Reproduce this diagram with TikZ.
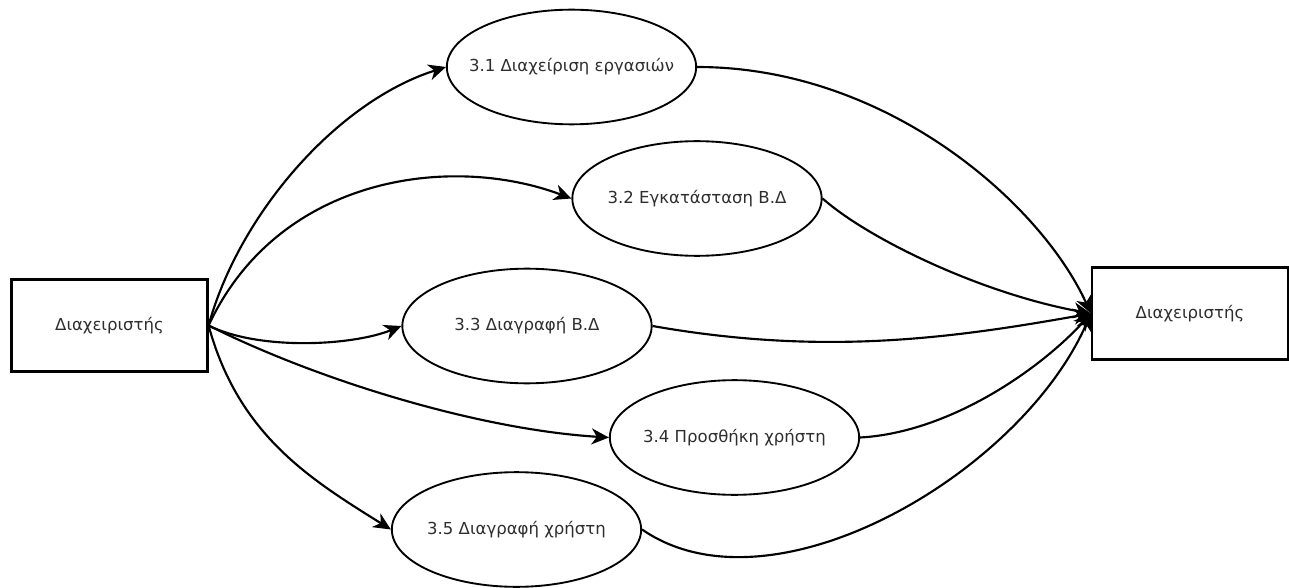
\documentclass[tikz,border=0pt]{standalone}
\usepackage{fontspec}
\setmainfont{DejaVu Sans}
\usetikzlibrary{shapes.geometric,arrows.meta}
\begin{document}
\begin{tikzpicture}[x=0.75pt,y=-0.75pt,
  every node/.style={font=\fontsize{12.4pt}{14pt}\selectfont,text=black!82},
  actor/.style={draw,line width=1.6pt,rectangle,minimum width=147pt,minimum height=69pt,inner sep=0pt},
  task/.style={draw,line width=1.4pt,ellipse,minimum width=187pt,minimum height=86pt,inner xsep=-50pt,inner ysep=-10pt},
  flow/.style={line width=1.6pt,-{Stealth[length=13pt,width=12pt,inset=4pt]}}]
\useasboundingbox (0,0) rectangle (1289,588);
% external entities
\node[actor] (L) at (109.5,325.5) {Διαχειριστής};
\node[actor] (R) at (1190,313.5) {Διαχειριστής};
% processes
\node[task] (E1) at (571.5,67) {3.1 Διαχείριση εργασιών};
\node[task] (E2) at (697,198.5) {3.2 Εγκατάσταση Β.Δ};
\node[task] (E3) at (527,326) {3.3 Διαγραφή Β.Δ};
\node[task] (E4) at (734.5,437.5) {3.4 Προσθήκη χρήστη};
\node[task] (E5) at (516.5,529.5) {3.5 Διαγραφή χρήστη};
% flows from the administrator
\coordinate (Lo) at (L.east);
\coordinate (Ri) at (R.west);
\draw[flow] (Lo) .. controls +(30,-110) and +(-110,35) .. (E1.west);
\draw[flow] (Lo) .. controls +(70,-150) and +(-120,-45) .. (E2.west);
\draw[flow] (Lo) .. controls +(50,25) and +(-50,20) .. (E3.west);
\draw[flow] (Lo) .. controls +(110,55) and +(-130,-8) .. (E4.west);
\draw[flow] (Lo) .. controls +(30,110) and +(-80,-50) .. (E5.west);
% flows back to the administrator
\draw[flow] (E1.east) .. controls +(190,0) and +(-50,-110) .. (Ri);
\draw[flow] (E2.east) .. controls +(45,40) and +(-110,-20) .. (Ri);
\draw[flow] (E3.east) .. controls +(170,30) and +(-140,25) .. (Ri);
\draw[flow] (E4.east) .. controls +(90,-5) and +(-50,55) .. (Ri);
\draw[flow] (E5.east) .. controls +(130,90) and +(-70,160) .. (Ri);
\end{tikzpicture}
\end{document}
